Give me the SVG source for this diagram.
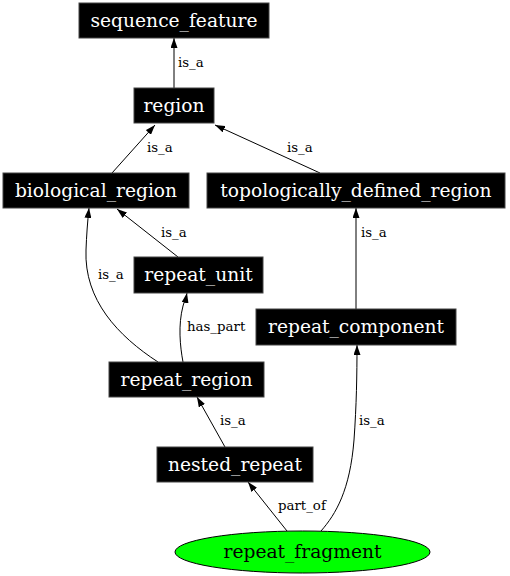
<svg xmlns="http://www.w3.org/2000/svg" width="510" height="576" viewBox="0 0 510 576">
<style>
.box{fill:#000;stroke:#444;stroke-width:1}
.nt{font-family:"DejaVu Serif",serif;font-size:18.67px;fill:#fff;text-anchor:middle}
.ft{font-family:"DejaVu Serif",serif;font-size:18.67px;fill:#000;text-anchor:middle}
.e{fill:none;stroke:#000;stroke-width:1;marker-end:url(#arr)}
.lb{font-family:"DejaVu Serif",serif;font-size:13.33px;fill:#000}
</style>
<defs>
<marker id="arr" markerUnits="userSpaceOnUse" markerWidth="10" markerHeight="7" refX="10" refY="3.5" orient="auto">
<path d="M0,0 L10,3.5 L0,7 z" fill="#000"/>
</marker>
</defs>
<rect width="510" height="576" fill="#fff"/>
<g id="connectors">
<path class="e" d="M174,88 L174,38"/>
<text class="lb" x="178" y="67">is_a</text>
<path class="e" d="M112,173 L155,125"/>
<text class="lb" x="147" y="152">is_a</text>
<path class="e" d="M320,173 L215,125"/>
<text class="lb" x="287" y="152">is_a</text>
<path class="e" d="M178,257 L117,209"/>
<text class="lb" x="161" y="237">is_a</text>
<path class="e" d="M158,362 C118,336 84,300 86,250 C86.5,236 87.5,222 89,208"/>
<text class="lb" x="98" y="279">is_a</text>
<path class="e" d="M183,362 C180,346 178,325 183,306 C184,302 186,298 187,293"/>
<text class="lb" x="187" y="331">has_part</text>
<path class="e" d="M356,309 L356,208"/>
<text class="lb" x="361" y="237">is_a</text>
<path class="e" d="M225,447 L197,397"/>
<text class="lb" x="220" y="425">is_a</text>
<path class="e" d="M287,531 L248,482"/>
<text class="lb" x="278" y="510">part_of</text>
<path class="e" d="M321,531 C336,514 350,490 354,440 C356.5,405 357,375 357,345"/>
<text class="lb" x="359" y="425">is_a</text>
</g>
<g id="sequence_feature"><rect class="box" x="79" y="3" width="190" height="35"/><text class="nt" x="174" y="27">sequence_feature</text></g>
<g id="region"><rect class="box" x="134" y="88" width="80" height="35"/><text class="nt" x="174" y="112">region</text></g>
<g id="biological_region"><rect class="box" x="3" y="173" width="186" height="35"/><text class="nt" x="96" y="197">biological_region</text></g>
<g id="topologically_defined_region"><rect class="box" x="207" y="173" width="298" height="35"/><text class="nt" x="356" y="197">topologically_defined_region</text></g>
<g id="repeat_unit"><rect class="box" x="134" y="257" width="129" height="36"/><text class="nt" x="198.5" y="281">repeat_unit</text></g>
<g id="repeat_component"><rect class="box" x="256" y="309" width="200" height="36"/><text class="nt" x="356" y="333">repeat_component</text></g>
<g id="repeat_region"><rect class="box" x="109" y="362" width="155" height="35"/><text class="nt" x="186.5" y="386">repeat_region</text></g>
<g id="nested_repeat"><rect class="box" x="157" y="447" width="156" height="35"/><text class="nt" x="235" y="471">nested_repeat</text></g>
<g id="repeat_fragment"><ellipse cx="302.5" cy="552" rx="127.5" ry="21" fill="#00ff00" stroke="#000"/><text class="ft" x="302.5" y="558">repeat_fragment</text></g>
</svg>
